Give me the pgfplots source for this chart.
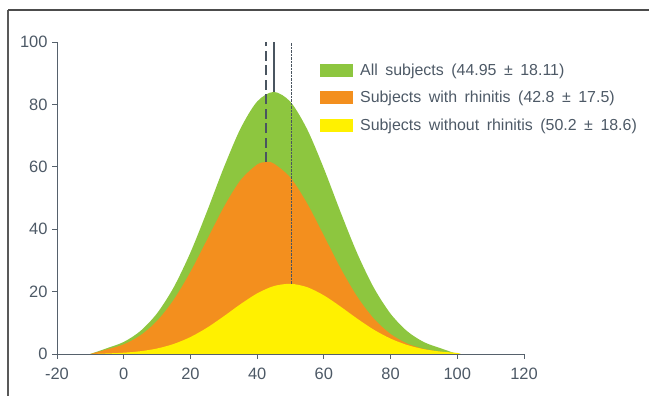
\documentclass[border=0pt]{standalone}
\usepackage{pgfplots}
\pgfplotsset{compat=1.18}
\usepackage{fontspec}
\setmainfont{Liberation Sans}[WordSpace=1.7]
\definecolor{cgreen}{HTML}{8DC63F}
\definecolor{corange}{HTML}{F38F1E}
\definecolor{cyellow}{HTML}{FFF100}
\definecolor{axgray}{HTML}{56616C}
\definecolor{txtgray}{HTML}{4D5966}
\definecolor{lngray}{HTML}{4A5560}
\begin{document}
\begin{tikzpicture}
\useasboundingbox (0,0) rectangle (649bp,396bp);
\draw[line width=1.3bp, color=black!65] (8bp,0) -- (8bp,386bp);
\draw[line width=1.3bp, color=black!70] (8bp,386bp) -- (649bp,386bp);
\begin{axis}[
  at={(57bp,42bp)}, anchor=south west,
  scale only axis, width=467bp, height=312bp,
  xmin=-20, xmax=120, ymin=0, ymax=100,
  xtick={-20,0,20,40,60,80,100,120},
  ytick={0,20,40,60,80,100},
  axis x line=bottom, axis y line=left,
  axis line style={-, color=axgray, line width=0.9bp},
  tick style={color=axgray, line width=0.8bp},
  tick align=outside, major tick length=5bp,
  tick label style={font=\fontsize{16.5}{16.5}\selectfont, text=txtgray},
  xticklabel style={yshift=-6bp},
  yticklabel style={xshift=-1bp},
  /pgf/number format/assume math mode=true,
  legend style={at={(0.563,0.938)}, anchor=north west, draw=none, fill=none,
    font=\fontsize{16}{16}\selectfont, text=txtgray, row sep=10.5bp, inner sep=0pt,
    /tikz/every odd column/.append style={column sep=5bp}},
  legend cell align=left,
  legend image code/.code={\fill[#1, draw=none] (0bp,-6.5bp) rectangle (33bp,6.5bp);},
]
\addplot[fill=cgreen, draw=none, smooth] coordinates {
(-10,0) (-5,1.87) (0,3.86) (5,7.37) (10,13.05) (15,21.40) (20,32.52) (25,45.79)
(30,59.74) (35,72.23) (40,80.92) (45,84.0) (50,80.80) (55,72.01) (60,59.47)
(65,45.51) (70,32.27) (75,21.20) (80,12.91) (85,7.28) (90,3.81) (95,1.84) (100,0)
} \closedcycle;
\addlegendentry{All subjects (44.95 ± 18.11)}
\addplot[fill=corange, draw=none, smooth] coordinates {
(-10,0) (-5,1.48) (0,3.09) (5,5.97) (10,10.62) (15,17.41) (20,26.32) (25,36.66)
(30,47.06) (35,55.68) (40,60.72) (42.8,61.5) (45,61.02) (50,56.51) (55,48.23) (60,37.94)
(65,27.51) (70,18.38) (75,11.31) (80,6.42) (85,3.36) (90,1.62) (95,0.72) (100,0)
} \closedcycle;
\addlegendentry{Subjects with rhinitis (42.8 ± 17.5)}
\addplot[fill=cyellow, draw=none, smooth] coordinates {
(-10,0) (-5,0.18) (0,0.41) (5,0.89) (10,1.76) (15,3.22) (20,5.43) (25,8.44)
(30,12.09) (35,15.96) (40,19.42) (45,21.77) (50,22.49) (55,21.42) (60,18.79)
(65,15.20) (70,11.33) (75,7.78) (80,4.93) (85,2.88) (90,1.55) (95,0.77) (100,0.35) (101,0)
} \closedcycle;
\addlegendentry{Subjects without rhinitis (50.2 ± 18.6)}
\addplot[forget plot, color=lngray, line width=2bp, dash pattern=on 10bp off 4.5bp] coordinates {(42.8,61.5) (42.8,100)};
\addplot[forget plot, color=lngray, line width=1.8bp] coordinates {(45,84) (45,100)};
\addplot[forget plot, color=lngray, line width=1.2bp, dash pattern=on 0.7bp off 0.7bp] coordinates {(50.2,22.4) (50.2,100)};
\end{axis}
\end{tikzpicture}
\end{document}
